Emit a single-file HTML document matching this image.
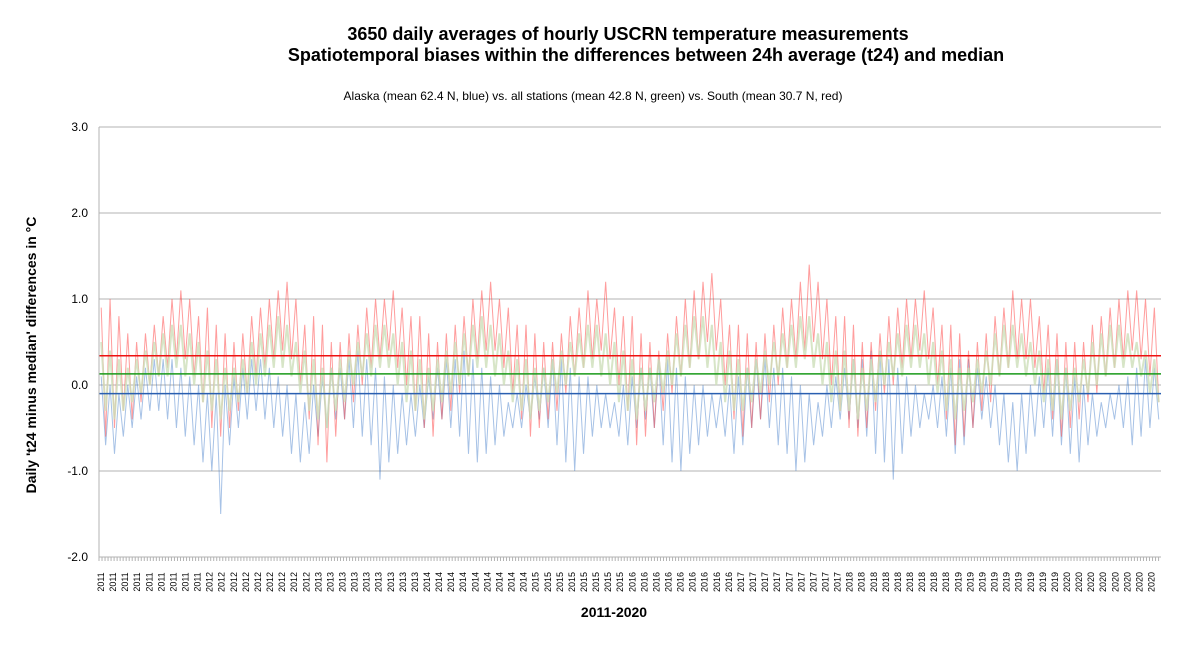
<!DOCTYPE html>
<html><head><meta charset="utf-8"><style>
body{margin:0;background:#fff;font-family:"Liberation Sans",sans-serif}
</style></head><body>
<svg id="chart" width="1187" height="642" xmlns="http://www.w3.org/2000/svg" font-family="Liberation Sans, sans-serif">
<text x="628" y="40" text-anchor="middle" font-size="18" font-weight="bold">3650 daily averages of hourly USCRN temperature measurements</text>
<text x="646" y="61" text-anchor="middle" font-size="18" font-weight="bold">Spatiotemporal biases within the differences between 24h average (t24) and median</text>
<text x="593" y="100" text-anchor="middle" font-size="12">Alaska (mean 62.4 N, blue) vs. all stations (mean 42.8 N, green) vs. South (mean 30.7 N, red)</text>
<text transform="translate(36,355) rotate(-90)" text-anchor="middle" font-size="14" font-weight="bold">Daily 't24 minus median' differences in °C</text>
<text x="614" y="617" text-anchor="middle" font-size="14" font-weight="bold">2011-2020</text>
<g id="grid"></g><g id="series"></g><g id="axes"></g>
</svg>
<script>
const yTicks=[3.0,2.0,1.0,0.0,-1.0,-2.0];
const meanValues=[-0.10,0.13,0.34]; // blue, green, red
const redHi=[0.9,1.0,0.8,0.6,0.5,0.6,0.7,0.8,1.0,1.1,1.0,0.8, 0.9,0.7,0.6,0.5,0.6,0.8,0.9,1.0,1.1,1.2,1.0,0.7, 0.8,0.7,0.5,0.5,0.6,0.7,0.9,1.0,1.0,1.1,0.9,0.8, 0.8,0.6,0.5,0.6,0.7,0.8,1.0,1.1,1.2,1.0,0.9,0.7, 0.7,0.6,0.5,0.5,0.6,0.8,0.9,1.1,1.0,1.2,0.9,0.8, 0.8,0.6,0.5,0.4,0.6,0.8,1.0,1.1,1.2,1.3,1.0,0.7, 0.7,0.6,0.5,0.6,0.7,0.9,1.0,1.2,1.4,1.2,1.0,0.8, 0.8,0.7,0.5,0.5,0.6,0.8,0.9,1.0,1.0,1.1,0.9,0.7, 0.7,0.6,0.4,0.5,0.6,0.8,0.9,1.1,1.0,1.0,0.8,0.7, 0.6,0.5,0.5,0.5,0.7,0.8,0.9,1.0,1.1,1.1,1.0,0.9];
const redLo=[-0.6,-0.5,-0.3,-0.4,-0.2,0.0,0.1,0.2,0.3,0.3,0.1,-0.2, -0.5,-0.6,-0.5,-0.3,-0.1,0.1,0.2,0.3,0.4,0.3,0.0,-0.4, -0.7,-0.9,-0.6,-0.4,-0.2,0.0,0.2,0.3,0.4,0.2,0.0,-0.3, -0.5,-0.6,-0.4,-0.3,-0.1,0.1,0.3,0.4,0.4,0.2,-0.1,-0.4, -0.6,-0.5,-0.4,-0.3,-0.1,0.1,0.2,0.3,0.4,0.3,0.0,-0.3, -0.7,-0.6,-0.5,-0.3,-0.1,0.1,0.2,0.3,0.5,0.4,0.0,-0.4, -0.6,-0.5,-0.4,-0.2,0.0,0.2,0.3,0.4,0.5,0.3,0.0,-0.3, -0.5,-0.6,-0.5,-0.3,-0.1,0.0,0.2,0.3,0.4,0.3,0.0,-0.4, -0.7,-0.6,-0.5,-0.3,-0.2,0.1,0.2,0.3,0.3,0.2,-0.1,-0.4, -0.6,-0.5,-0.4,-0.2,-0.1,0.1,0.2,0.3,0.4,0.3,0.1,-0.2];
const blueHi=[0.1,0.0,-0.1,0.0,0.1,0.2,0.3,0.3,0.3,0.2,0.1,0.0, -0.1,-0.1,0.0,0.1,0.2,0.3,0.3,0.2,0.1,0.0,-0.1,-0.2, 0.0,0.1,0.2,0.2,0.3,0.4,0.3,0.2,0.1,0.0,-0.1,-0.1, 0.0,0.1,0.2,0.3,0.3,0.4,0.3,0.2,0.1,0.0,-0.2,-0.1, 0.0,0.1,0.2,0.3,0.3,0.2,0.1,0.1,0.0,-0.1,-0.2,0.0, 0.1,0.2,0.2,0.3,0.3,0.2,0.1,0.0,0.0,-0.1,-0.1,0.0, 0.1,0.2,0.3,0.3,0.2,0.2,0.1,0.0,-0.1,-0.2,0.0,0.1, 0.2,0.3,0.3,0.4,0.4,0.3,0.2,0.1,0.0,-0.1,0.0,0.1, 0.2,0.3,0.3,0.2,0.1,0.0,-0.1,-0.2,-0.1,0.0,0.1,0.2, 0.3,0.2,0.1,0.0,-0.1,-0.2,-0.1,0.0,0.1,0.2,0.3,0.2];
const blueLo=[-0.7,-0.8,-0.6,-0.5,-0.4,-0.3,-0.3,-0.4,-0.5,-0.6,-0.7,-0.9, -1.0,-1.5,-0.7,-0.5,-0.4,-0.3,-0.4,-0.5,-0.6,-0.8,-0.9,-0.8, -0.6,-0.5,-0.4,-0.4,-0.5,-0.6,-0.7,-1.1,-0.9,-0.8,-0.7,-0.6, -0.5,-0.4,-0.4,-0.5,-0.6,-0.8,-0.9,-0.8,-0.7,-0.6,-0.5,-0.5, -0.4,-0.4,-0.5,-0.7,-0.9,-1.0,-0.8,-0.6,-0.5,-0.5,-0.6,-0.7, -0.5,-0.4,-0.5,-0.7,-0.9,-1.0,-0.8,-0.7,-0.6,-0.5,-0.6,-0.8, -0.7,-0.5,-0.4,-0.5,-0.7,-0.8,-1.0,-0.9,-0.7,-0.6,-0.5,-0.4, -0.4,-0.5,-0.6,-0.8,-0.9,-1.1,-0.8,-0.6,-0.5,-0.4,-0.5,-0.6, -0.8,-0.7,-0.5,-0.4,-0.5,-0.7,-0.9,-1.0,-0.8,-0.6,-0.5,-0.6, -0.7,-0.8,-0.9,-0.7,-0.6,-0.5,-0.4,-0.5,-0.7,-0.6,-0.5,-0.4];
const greenHi=[0.5,0.4,0.3,0.2,0.3,0.4,0.5,0.6,0.7,0.7,0.6,0.5, 0.4,0.3,0.2,0.2,0.3,0.5,0.6,0.7,0.8,0.7,0.5,0.4, 0.3,0.2,0.2,0.3,0.4,0.5,0.6,0.7,0.7,0.6,0.5,0.4, 0.3,0.2,0.3,0.4,0.5,0.6,0.7,0.8,0.7,0.6,0.4,0.3, 0.3,0.2,0.2,0.3,0.4,0.5,0.6,0.7,0.7,0.6,0.5,0.4, 0.3,0.2,0.2,0.3,0.4,0.6,0.7,0.8,0.8,0.7,0.5,0.4, 0.3,0.2,0.3,0.4,0.5,0.6,0.7,0.8,0.8,0.6,0.5,0.4, 0.4,0.3,0.2,0.3,0.4,0.5,0.6,0.7,0.7,0.6,0.5,0.4, 0.3,0.2,0.2,0.3,0.4,0.6,0.7,0.7,0.6,0.5,0.4,0.3, 0.3,0.2,0.2,0.3,0.5,0.6,0.7,0.7,0.6,0.5,0.4,0.3];
const greenLo=[-0.3,-0.4,-0.3,-0.2,-0.1,0.0,0.1,0.1,0.2,0.1,0.0,-0.2, -0.3,-0.4,-0.3,-0.2,-0.1,0.0,0.1,0.2,0.2,0.1,-0.1,-0.3, -0.4,-0.5,-0.3,-0.2,0.0,0.1,0.1,0.2,0.2,0.0,-0.2,-0.3, -0.4,-0.3,-0.2,-0.1,0.0,0.1,0.2,0.2,0.1,0.0,-0.2,-0.3, -0.4,-0.3,-0.2,-0.1,0.0,0.1,0.2,0.2,0.1,0.0,-0.2,-0.3, -0.4,-0.3,-0.2,-0.1,0.0,0.1,0.2,0.3,0.2,0.0,-0.2,-0.3, -0.3,-0.2,-0.1,0.0,0.1,0.2,0.2,0.3,0.2,0.0,-0.2,-0.3, -0.3,-0.4,-0.3,-0.2,0.0,0.1,0.1,0.2,0.2,0.0,-0.1,-0.3, -0.4,-0.3,-0.2,-0.1,0.0,0.1,0.2,0.2,0.1,0.0,-0.2,-0.3, -0.4,-0.3,-0.2,-0.1,0.0,0.1,0.2,0.2,0.2,0.1,-0.1,-0.2];
const totalDays=3650, labelStepDays=41.5, startYear=2011;

const NS='http://www.w3.org/2000/svg';
const X0=99,X1=1161,Y0=127,Y1=557;
const yScale=v=>Y0+(3-v)*(Y1-Y0)/5;
const xMonth=m=>X0+m/120*(X1-X0);
const xDay=d=>X0+d/totalDays*(X1-X0);
function mk(tag,attrs,parent){const e=document.createElementNS(NS,tag);for(const k in attrs)e.setAttribute(k,attrs[k]);parent.appendChild(e);return e;}
const grid=document.getElementById('grid'),series=document.getElementById('series'),axes=document.getElementById('axes');
yTicks.forEach(v=>{
  const l=mk('line',{x1:X0,x2:X1,y1:yScale(v),y2:yScale(v),stroke:'#b3b3b3','stroke-width':1},grid);
  
  
  const t=mk('text',{x:88,y:yScale(v)+4,'text-anchor':'end','font-size':12},axes);
  t.textContent=v.toFixed(1);
  
  
});
function zig(hi,lo,color,width,name){
  const pts=[];
  for(let i=0;i<hi.length;i++){pts.push(xMonth(i+0.25)+','+yScale(hi[i]));pts.push(xMonth(i+0.75)+','+yScale(lo[i]));}
  const p=mk('polyline',{points:pts.join(' '),fill:'none',stroke:color,'stroke-width':width,'stroke-linejoin':'miter'},series);
  
  
}
zig(blueHi,blueLo,'rgba(60,120,200,0.45)',1,'alaska-series');
zig(redHi,redLo,'rgba(255,60,60,0.5)',1,'south-series');
zig(greenHi,greenLo,'rgba(205,222,185,0.8)',2,'all-stations-series');
const meanColors=['#2a5fb0','#1a9a1a','#ee1111'],meanNames=['alaska-mean-line','all-stations-mean-line','south-mean-line'];
meanValues.forEach((v,i)=>{
  const l=mk('line',{x1:X0,x2:X1,y1:yScale(v),y2:yScale(v),stroke:meanColors[i],'stroke-width':1.5},series);
  
  
});
const ya=mk('line',{x1:X0,x2:X0,y1:Y0,y2:Y1,stroke:'#b3b3b3'},axes);


const xa=mk('line',{x1:X0,x2:X1,y1:Y1,y2:Y1,stroke:'#b3b3b3'},axes);


for(let d=0;d<=totalDays;d+=labelStepDays/4){
  const t=mk('line',{x1:xDay(d),x2:xDay(d),y1:Y1,y2:Y1+4,stroke:'#b3b3b3'},axes);
  
  
}
for(let d=0;d<totalDays;d+=labelStepDays){
  const x=xDay(d)+5;
  const t=mk('text',{transform:'translate('+x+',582) rotate(-90)','text-anchor':'middle','font-size':9},axes);
  t.textContent=String(startYear+Math.floor(d/365));
  
  
}
</script>
</body></html>
